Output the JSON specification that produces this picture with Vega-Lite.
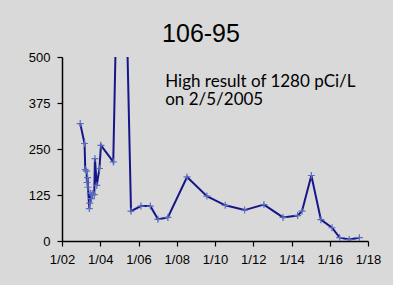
{
  "$schema": "https://vega.github.io/schema/vega-lite/v6.json",
  "width": 306,
  "height": 184,
  "autosize": "none",
  "padding": {"left": 62, "top": 57, "right": 25, "bottom": 44},
  "background": "#d9d9d9",
  "config": {"view": {"stroke": null}, "font": "Liberation Sans"},
  "title": {"text": "106-95", "fontSize": 25, "font": "Liberation Sans", "fontWeight": "normal", "color": "#000000", "anchor": "middle", "frame": "group", "dx": -14, "offset": -16, "baseline": "alphabetic"},
  "datasets": {
    "results": [
      {"date": "2002-12-15", "value": 319},
      {"date": "2003-03-08", "value": 265},
      {"date": "2003-03-21", "value": 194},
      {"date": "2003-04-15", "value": 190},
      {"date": "2003-04-23", "value": 159},
      {"date": "2003-05-05", "value": 172},
      {"date": "2003-05-12", "value": 146},
      {"date": "2003-06-06", "value": 88},
      {"date": "2003-06-15", "value": 103},
      {"date": "2003-06-25", "value": 130},
      {"date": "2003-07-19", "value": 115},
      {"date": "2003-08-01", "value": 129},
      {"date": "2003-09-09", "value": 126},
      {"date": "2003-09-22", "value": 224},
      {"date": "2003-10-27", "value": 151},
      {"date": "2003-12-17", "value": 197},
      {"date": "2004-01-15", "value": 260},
      {"date": "2004-09-06", "value": 215},
      {"date": "2005-02-05", "value": 1280},
      {"date": "2005-08-11", "value": 81},
      {"date": "2006-02-17", "value": 95},
      {"date": "2006-08-15", "value": 95},
      {"date": "2007-01-08", "value": 59},
      {"date": "2007-07-16", "value": 64},
      {"date": "2008-07-16", "value": 174},
      {"date": "2009-07-30", "value": 122},
      {"date": "2010-07-16", "value": 97},
      {"date": "2011-07-20", "value": 84},
      {"date": "2012-07-23", "value": 99},
      {"date": "2013-07-23", "value": 64},
      {"date": "2014-04-27", "value": 69},
      {"date": "2014-07-20", "value": 81},
      {"date": "2015-01-15", "value": 178},
      {"date": "2015-07-16", "value": 58},
      {"date": "2016-02-14", "value": 36},
      {"date": "2016-07-09", "value": 9},
      {"date": "2017-01-08", "value": 4},
      {"date": "2017-07-20", "value": 9}
    ],
    "note": [
      {"date": "2007-05-26", "value": 418, "label": ["High result of 1280 pCi/L", "on 2/5/2005"]}
    ]
  },
  "encoding": {
    "x": {
      "field": "date",
      "type": "temporal",
      "scale": {"type": "utc", "domain": [{"year": 2002, "month": 1, "date": 1, "utc": true}, {"year": 2018, "month": 1, "date": 1, "utc": true}]},
      "axis": {
        "title": null,
        "grid": false,
        "values": [
          {"year": 2002, "month": 1, "date": 1, "utc": true},
          {"year": 2004, "month": 1, "date": 1, "utc": true},
          {"year": 2006, "month": 1, "date": 1, "utc": true},
          {"year": 2008, "month": 1, "date": 1, "utc": true},
          {"year": 2010, "month": 1, "date": 1, "utc": true},
          {"year": 2012, "month": 1, "date": 1, "utc": true},
          {"year": 2014, "month": 1, "date": 1, "utc": true},
          {"year": 2016, "month": 1, "date": 1, "utc": true},
          {"year": 2018, "month": 1, "date": 1, "utc": true}
        ],
        "format": "%-m/%y",
        "labelFontSize": 13,
        "labelColor": "#000000",
        "labelPadding": 7,
        "tickSize": 5,
        "tickColor": "#000000",
        "domainColor": "#000000",
        "domainWidth": 1.5,
        "tickWidth": 1.2,
        "labelFlush": false,
        "labelOverlap": false
      }
    },
    "y": {
      "field": "value",
      "type": "quantitative",
      "scale": {"domain": [0, 500], "nice": false},
      "axis": {
        "title": null,
        "grid": false,
        "values": [0, 125, 250, 375, 500],
        "labelFontSize": 13,
        "labelColor": "#000000",
        "labelPadding": 7,
        "tickSize": 5,
        "tickColor": "#000000",
        "domainColor": "#000000",
        "domainWidth": 1.5,
        "tickWidth": 1.2
      }
    }
  },
  "layer": [
    {
      "data": {"name": "results"},
      "mark": {"type": "line", "color": "#16168a", "strokeWidth": 2, "clip": true}
    },
    {
      "data": {"name": "results"},
      "mark": {"type": "point", "shape": "M-1,0H1M0,-1V1", "filled": false, "stroke": "#5a6ec0", "strokeWidth": 1.2, "size": 49, "opacity": 1, "clip": true}
    },
    {
      "data": {"name": "note"},
      "mark": {"type": "text", "align": "left", "baseline": "alphabetic", "font": "Lato", "fontSize": 17, "lineHeight": 18, "color": "#000000"},
      "encoding": {"text": {"field": "label"}}
    }
  ]
}
